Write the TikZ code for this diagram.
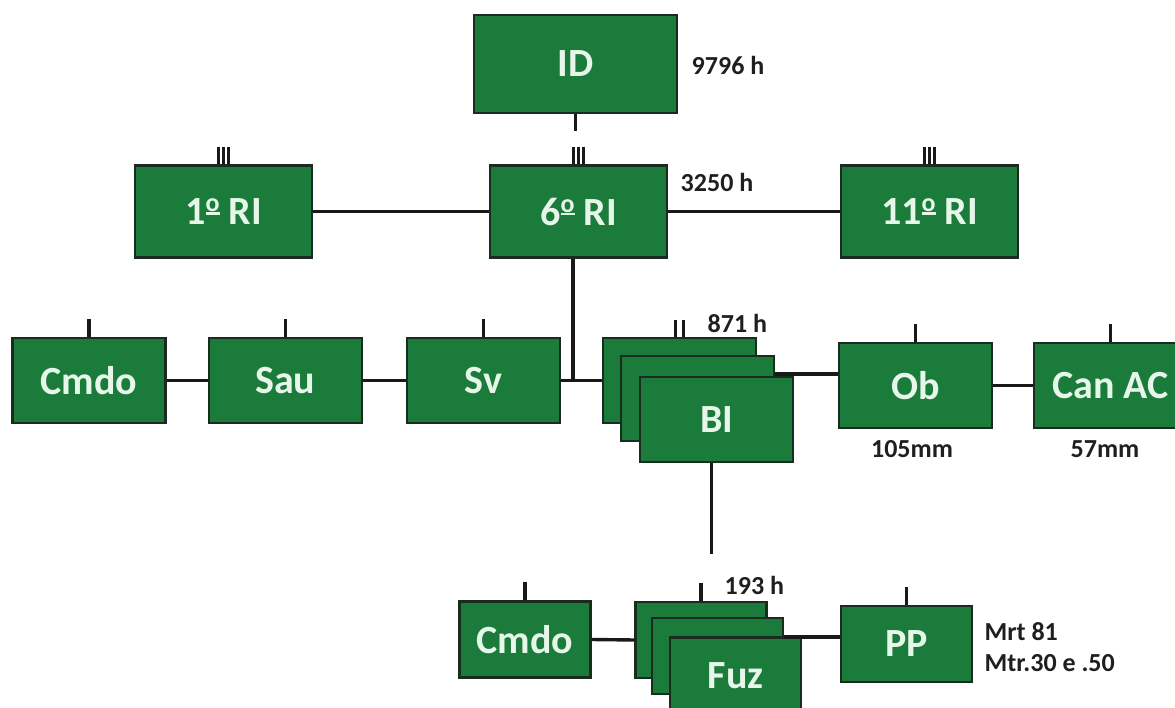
\documentclass[tikz,border=0pt]{standalone}
\usepackage{fontspec}
\setmainfont{Carlito}
\usetikzlibrary{positioning}

\definecolor{armygreen}{HTML}{1B7B3A}
\definecolor{mint}{HTML}{E6F7EA}
\definecolor{edge}{HTML}{1C2B20}

% underlined ordinal sign as Calibri draws it
\newcommand\ordm{\raisebox{13pt}{\fontsize{26}{26}\selectfont
  \vtop{\hbox{o}\kern0.8pt\hrule height 2.4pt}}}

\begin{document}
\begin{tikzpicture}[
  x=1pt,y=-1pt,line width=3.4pt,draw=black!90,
  unit/.style={draw=edge,line width=2.2pt,fill=armygreen,text=mint,
               font=\fontsize{40}{44}\selectfont\bfseries,inner sep=0pt,
               minimum width=153pt,minimum height=85pt},
  regt/.style={unit,minimum width=177pt,minimum height=92pt},
  pel/.style={unit,minimum width=131pt,minimum height=76pt},
  note/.style={font=\fontsize{26}{31}\selectfont\bfseries,text=black!88,
               inner sep=0pt}
]
\useasboundingbox (0,0) rectangle (1175,708);
\clip (0,0) rectangle (1175,708);

% division and regiments
\node[regt,minimum width=203pt,minimum height=98pt] (id) at (575.5,64) {ID};
\node[regt] (ri1) at (223.5,211.5) {1\ordm\ RI};
\node[regt] (ri6) at (578.5,211.5) {6\ordm\ RI};
\node[regt] (ri11) at (929.5,211.5) {11\ordm\ RI};

% battalion level
\node[unit] (cmdo) at (89,380.5) {Cmdo};
\node[unit,right=41pt of cmdo] (sau) {Sau};
\node[unit,right=43pt of sau] (sv) {Sv};
\node[unit,right=41pt of sv] (bi1) {};
\node[unit] (bi2) at ([shift={(18,18)}]bi1.center) {};
\node[unit] (bi3) at ([shift={(19,21)}]bi2.center) {BI};
\node[unit] (ob) at (915.5,385.5) {Ob};
\node[unit,right=40pt of ob] (can) {Can AC};

% company level
\node[pel] (cmd2) at (525,639.5) {Cmdo};
\node[pel] (fz1) at (701,640) {};
\node[pel] (fz2) at ([shift={(16.5,16)}]fz1.center) {};
\node[pel] (fz3) at ([shift={(18,19.5)}]fz2.center) {Fuz};
\node[pel] (pp) at (906.5,644) {PP};

% strengths and calibres
\node[note,anchor=west] (h1) at (690,65) {9796 h};
\node[note,anchor=west] (h2) at (679,182) {3250 h};
\node[note,anchor=west] (h3) at (706,323) {871 h};
\node[note,anchor=west] (h4) at (723,585) {193 h};
\node[note] (mm1) at (912,449) {105mm};
\node[note] (mm2) at (1105,449) {57mm};
\node[note,anchor=west,align=left] (arm) at (983,647.5) {Mrt 81\\Mtr.30 e .50};

% links
\draw (id.south) -- ++(0,17);
\draw (ri1.east) -- (ri6.west);
\draw (ri6.east) -- (ri11.west);
\coordinate (jn) at (573,380);
\draw (jn |- ri6.south) -- (jn);
\draw (cmdo.east) -- (sau.west);
\draw (sau.east) -- (sv.west);
\draw (sv.east) -- (bi1.west);
\coordinate (bo) at ([yshift=24.5pt]bi2.east);
\draw (bo) -- (bo -| ob.west);
\draw (ob.east) -- (can.west);
\draw ([xshift=-5pt]bi3.south) -- ++(0,91);
\draw (cmd2.east) -- (fz1.west);
\coordinate (fo) at ([yshift=19pt]fz2.east);
\draw (fo) -- (fo -| pp.west);

% echelon marks
\foreach \n in {cmdo,sau,sv,ob,can,cmd2,fz1,pp}
  \draw (\n.north) -- ++(0,-18);
\foreach \n in {ri1,ri6,ri11}
  \foreach \d in {-5,0,5}
    \draw[line width=2.6pt] ([xshift=\d pt]\n.north) -- ++(0,-17);
\foreach \d in {-4,4}
  \draw[line width=2.6pt] ([xshift=\d pt]bi1.north) -- ++(0,-17);
\end{tikzpicture}
\end{document}
